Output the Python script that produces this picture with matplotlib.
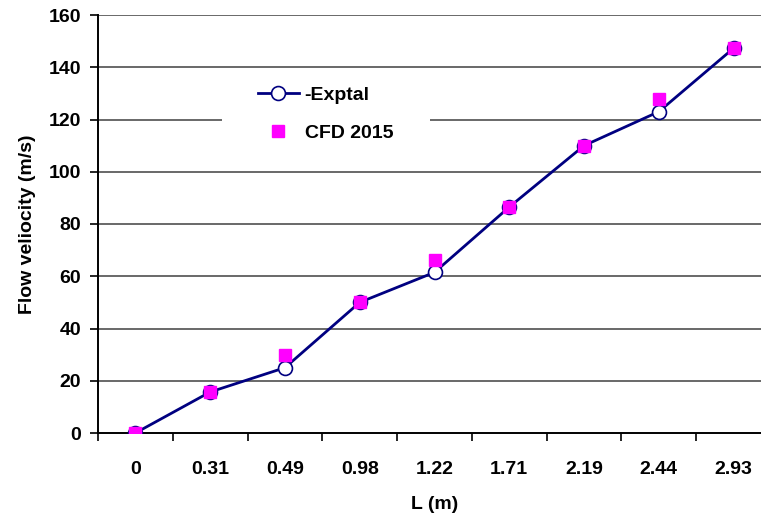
import matplotlib
matplotlib.use('Agg')
import matplotlib.pyplot as plt
from matplotlib.patches import Rectangle
import numpy as np

plt.rcParams['font.family'] = ['Liberation Sans', 'DejaVu Sans']
plt.rcParams['font.weight'] = 'bold'

# L (m) categories and flow velocity readings
L_labels = ['0', '0.31', '0.49', '0.98', '1.22', '1.71', '2.19', '2.44', '2.93']
exptal = [0, 15.7, 25, 50, 61.5, 86.5, 110, 123, 147.3]
cfd_2015 = [0, 15.7, 30, 50, 66.2, 86.5, 110, 127.7, 147.3]
y_ticks = [0, 20, 40, 60, 80, 100, 120, 140, 160]

fs = 14

fig = plt.figure(figsize=(7.61, 5.17), dpi=100)
ax = fig.add_axes([98/761, 1 - 433/517, 673/761, 418/517])

ax.plot(L_labels, exptal, color='#000080', lw=2, marker='o', ms=10,
        mfc='white', mec='#000080', mew=1.2, label='-Exptal', zorder=3)
ax.plot(L_labels, cfd_2015, ls='none', marker='s', ms=8, color='#FF00FF',
        label='CFD 2015', zorder=4)

ax.set_xlim(-0.5, len(L_labels) - 0.5)
ax.set_ylim(0, 160)
ax.set_yticks(y_ticks)
for v in y_ticks[1:]:
    ax.axhline(v, color='#404040', lw=1.1, zorder=1)

ax.set_xticks(np.arange(-0.5, len(L_labels)), minor=True)
ax.tick_params(axis='x', which='major', length=0, pad=20, labelsize=fs)
ax.tick_params(axis='x', which='minor', length=6, width=1.2, direction='out')
ax.tick_params(axis='y', length=6, width=1.2, direction='out', pad=6, labelsize=fs)

for s in ['top', 'right']:
    ax.spines[s].set_visible(False)
for s in ['left', 'bottom']:
    ax.spines[s].set_linewidth(1.4)
    ax.spines[s].set_zorder(2)

# white patch behind the legend
ax.add_patch(Rectangle((124/673, 0.677), 208/673, 0.172, transform=ax.transAxes,
                       facecolor='white', edgecolor='none', zorder=1.5))
ax.legend(loc='upper left', bbox_to_anchor=((258-98)/673, (433-86)/418),
          frameon=False, borderpad=0, borderaxespad=0, handlelength=2.1,
          handletextpad=0.3, labelspacing=1.05, fontsize=fs)

ax.set_xlabel('L (m)', fontsize=fs, fontweight='bold')
ax.xaxis.set_label_coords(0.5, (433-496)/418)
ax.set_ylabel('Flow veliocity (m/s)', fontsize=fs, fontweight='bold', labelpad=9)

fig.savefig('out.png', dpi=100)
